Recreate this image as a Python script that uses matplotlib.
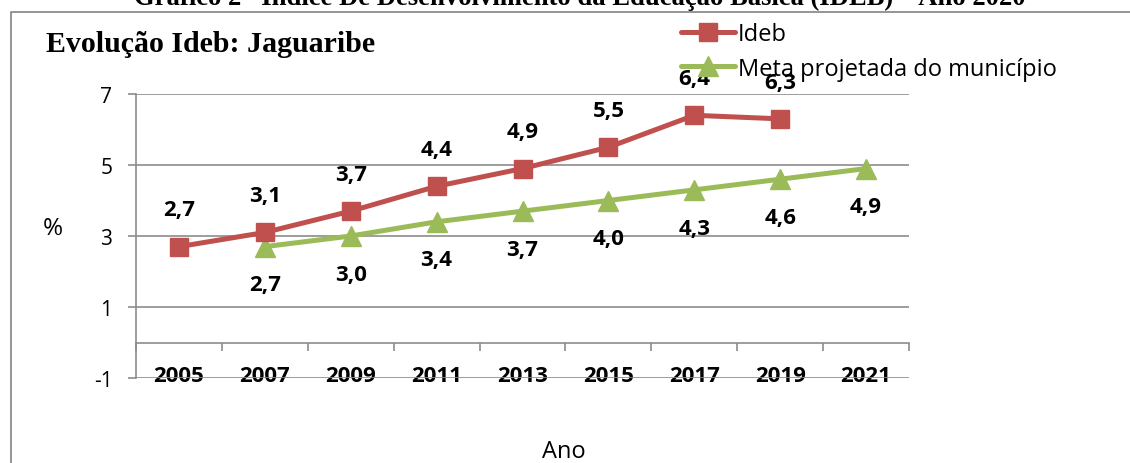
import matplotlib
matplotlib.use("Agg")
import matplotlib.pyplot as plt
from matplotlib.lines import Line2D
import numpy as np

years = ["2005", "2007", "2009", "2011", "2013", "2015", "2017", "2019", "2021"]
ideb = [2.7, 3.1, 3.7, 4.4, 4.9, 5.5, 6.4, 6.3, None]
meta = [None, 2.7, 3.0, 3.4, 3.7, 4.0, 4.3, 4.6, 4.9]
yticks = [-1, 1, 3, 5, 7]

RED = "#C0504D"
GREEN = "#9BBB59"
GRID = "#8C8C8C"
SANS = ["Open Sans", "DejaVu Sans"]
SERIF = ["Liberation Serif", "DejaVu Serif"]

W, H = 1130, 464
fig = plt.figure(figsize=(W / 100, H / 100), dpi=100)

def fx(px):
    return px / W

def fy(py):
    return 1 - py / H

ax = fig.add_axes([fx(136), fy(379), fx(909) - fx(136), fy(95) - fy(379)])
ax.set_xlim(-0.5, len(years) - 0.5)
ax.set_ylim(-1, 7)

x = np.arange(len(years))
yi = np.array([np.nan if v is None else v for v in ideb])
ym = np.array([np.nan if v is None else v for v in meta])

ax.plot(x, yi, color=RED, lw=3.6, marker="s", ms=13.5, mfc=RED, mec=RED,
        solid_capstyle="round", label="Ideb", zorder=4)
ax.plot(x, ym, color=GREEN, lw=3.6, marker="^", ms=15, mfc=GREEN, mec=GREEN,
        solid_capstyle="round", label="Meta projetada do município", zorder=3)

for xi, v in zip(x, ideb):
    if v is not None:
        ax.annotate(f"{v:.1f}".replace(".", ","), (xi, v), xytext=(0, 26.5),
                    textcoords="offset points", ha="center", va="center",
                    fontsize=16, fontweight="bold", family=SANS, color="black",
                    annotation_clip=False, zorder=6)
for xi, v in zip(x, meta):
    if v is not None:
        ax.annotate(f"{v:.1f}".replace(".", ","), (xi, v), xytext=(0, -27.5),
                    textcoords="offset points", ha="center", va="center",
                    fontsize=16, fontweight="bold", family=SANS, color="black",
                    annotation_clip=False, zorder=6)

# grid & axes
ax.set_yticks(yticks)
ax.set_yticklabels([str(t) for t in yticks], family=SANS, fontsize=15)
ax.yaxis.grid(True, color=GRID, lw=1.2)
ax.set_axisbelow(True)
ax.tick_params(axis="y", direction="out", length=6, width=1.2, color=GRID, pad=11)
for s in ["top", "right", "bottom"]:
    ax.spines[s].set_visible(False)
ax.spines["left"].set_color(GRID)
ax.spines["left"].set_linewidth(1.2)

ax.set_xticks(x)
ax.set_xticklabels(years, family=SANS, fontsize=16, fontweight="bold")
ax.tick_params(axis="x", length=0, pad=-9)

# category axis line crossing at y=0
sec = ax.secondary_xaxis((0 - (-1)) / 8)
sec.set_xticks(np.arange(-0.5, len(years), 1.0))
sec.set_xticklabels([])
sec.tick_params(axis="x", direction="out", length=6, width=1.2, color=GRID)
sec.spines["bottom"].set_color(GRID)
sec.spines["bottom"].set_linewidth(1.2)
sec.spines["top"].set_visible(False)

# axis titles
fig.text(fx(53), fy(229), "%", family=SANS, fontsize=17.5, ha="center", va="center")
fig.text(fx(564), fy(458), "Ano", family=SANS, fontsize=17, ha="center", va="baseline")

# chart title
fig.text(fx(46), fy(45), "Evolução Ideb: Jaguaribe", family=SERIF, fontsize=21.5,
         fontweight="bold", ha="left", va="center")

# document caption cut at top
fig.text(fx(580), fy(5), "Gráfico 2– Índice De Desenvolvimento da Educação Básica (IDEB) – Ano 2020",
         family=SERIF, fontsize=19.2, fontweight="bold", ha="center", va="baseline")

# chart border (left and top)
fig.add_artist(Line2D([fx(11), fx(11), fx(1130)], [0, fy(12.5), fy(12.5)],
                      transform=fig.transFigure, color=GRID, lw=1.3))

leg = fig.legend(loc="upper left", bbox_to_anchor=(fx(681), fy(23)),
                 frameon=False, prop={"family": SANS, "size": 17},
                 handlelength=2.3, handletextpad=0.12, labelspacing=0.45,
                 borderpad=0, borderaxespad=0)

fig.savefig("out.png", dpi=100)
